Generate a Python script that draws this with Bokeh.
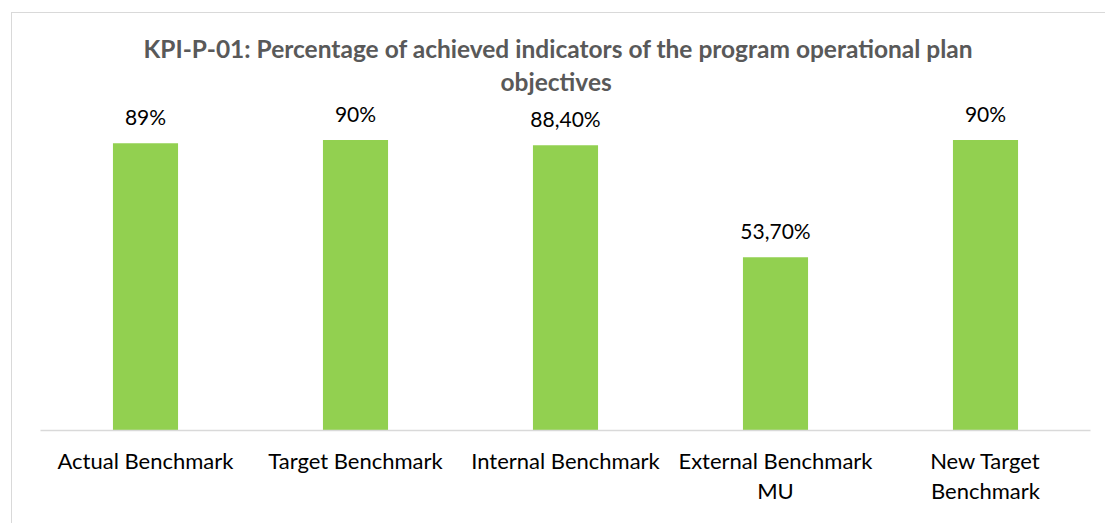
from bokeh.plotting import figure
from bokeh.models import ColumnDataSource, Range1d, FactorRange, Title
from bokeh.core.properties import value
from bokeh.embed import file_html
from bokeh.resources import INLINE

title_line1 = "KPI-P-01: Percentage of achieved indicators of the program operational plan"
title_line2 = "objectives"
categories = ["Actual Benchmark", "Target Benchmark", "Internal Benchmark",
              "External Benchmark\nMU", "New Target\nBenchmark"]
values = [89.0, 90.0, 88.4, 53.7, 90.0]
labels = ["89%", "90%", "88,40%", "53,70%", "90%"]

FONT = "Lato"
src = ColumnDataSource(dict(cat=categories, val=values, lab=labels))

p = figure(width=1094, height=511, output_backend="svg", toolbar_location=None,
           x_range=FactorRange(factors=categories, range_padding=0),
           y_range=Range1d(0, 102.9),
           min_border_left=28, min_border_right=16, min_border_top=85, min_border_bottom=94,
           margin=(12, 0, 0, 11),
           styles={"border-top": "1.5px solid #d9d9d9", "border-left": "1.5px solid #d9d9d9"})
p.title.visible = False

t2 = Title(text=title_line2, align="left", offset=460, text_font=FONT, text_font_size="24.5px",
           text_font_style="bold", text_color="#595959", standoff=5)
t1 = Title(text=title_line1, align="left", offset=103, text_font=FONT, text_font_size="24.5px",
           text_font_style="bold", text_color="#595959", standoff=0, text_line_height=1.05)
p.add_layout(t2, "above")
p.add_layout(t1, "above")

p.vbar(x="cat", top="val", width=0.31, source=src, fill_color="#92D050", line_color=None)
p.text(x="cat", y="val", text="lab", source=src, text_align="center", text_baseline="alphabetic",
       y_offset=-27, text_font=value(FONT), text_font_size=value("21px"), text_color="#000000")

p.yaxis.visible = False
p.grid.visible = False
p.outline_line_color = None
p.xaxis.axis_line_color = "#d9d9d9"
p.xaxis.axis_line_width = 1.3
p.xaxis.major_tick_line_color = None
p.xaxis.minor_tick_line_color = None
p.xaxis.major_label_text_font = FONT
p.xaxis.major_label_text_font_size = "22px"
p.xaxis.major_label_text_color = "#000000"
p.xaxis.major_label_standoff = 10
p.xaxis.major_label_text_line_height = 1.12

open("out.html", "w").write(file_html(p, INLINE))
